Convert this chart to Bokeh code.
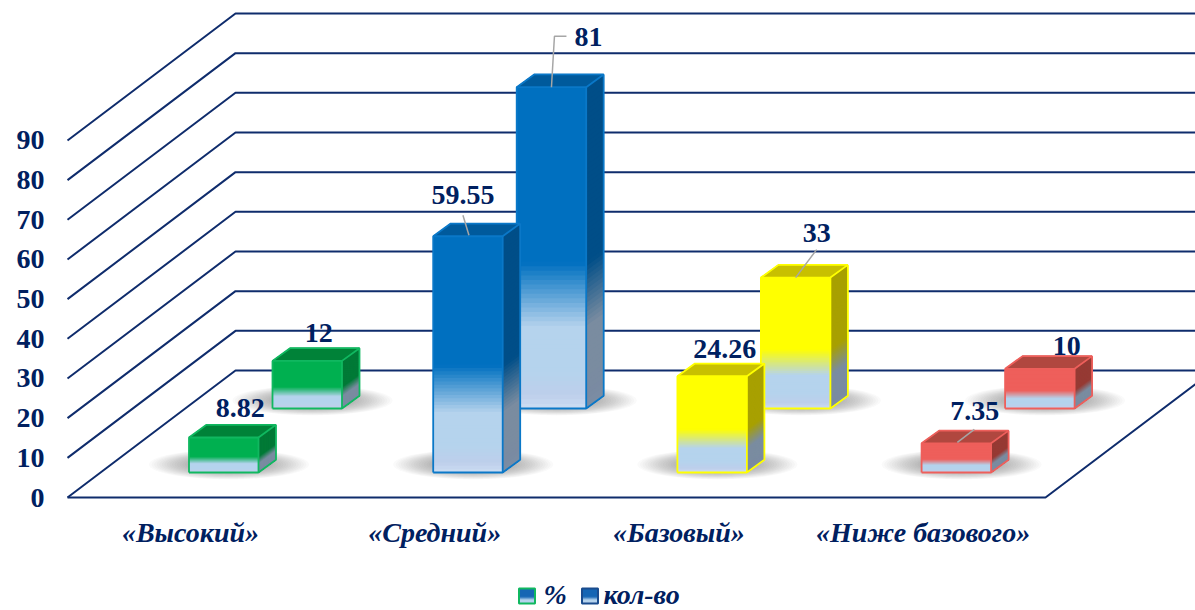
import numpy as np
from bokeh.plotting import figure
from bokeh.layouts import column
from bokeh.models import Range1d, FixedTicker
from bokeh.core.properties import value
from bokeh.embed import file_html
from bokeh.resources import INLINE

# ---- data ----
categories = ["«Высокий»", "«Средний»", "«Базовый»", "«Ниже базового»"]
pct_values = [8.82, 59.55, 24.26, 7.35]
count_values = [12, 81, 33, 10]
y_ticks = [0, 10, 20, 30, 40, 50, 60, 70, 80, 90]
series_names = ["%", "кол-во"]

# ---- colours per category ----
front_col = ["#00B050", "#0070C0", "#FFFF00", "#EE5F5B"]
top_col = ["#008238", "#005A9C", "#C8C000", "#B0473F"]
side_col = ["#007A37", "#004E88", "#A8A000", "#963B35"]
edge_col = ["#10B860", "#0A78C8", "#FFFF00", "#EE5F5B"]
TXT = "#002060"
GRID = "#0F2C6C"
LEAD = "#A6A6A6"
FONT = value("Liberation Serif")

# ---- layout (screen-px scale) ----
PX = 3.967            # px per value unit
W, H1, H2 = 1195, 556, 54
X0_F, X0_B, STEP, BAR_W = 188.5, 272.0, 244.2, 69.5
DX, DY = 17.5, 12.7 / PX
BASE_F, BASE_B = 25.0 / PX, 89.0 / PX
WALL_DX, WALL_DY = 168.0, 127.0 / PX
# label offsets from the centre of the bar's top edge (dx, up), front row then back row
label_off_f = [(16.5, 29.5), (-5, 41), (12.5, 27), (18.5, 32)]
label_off_b = [(11.5, 28), (37, 50), (21, 45), (27, 23)]
lead_f = {1: [(1, 1), (-5, 21)], 3: [(1, 1), (18, 14)]}
lead_b = {1: [(0, 0), (3, 51), (15, 51)], 2: [(0, 0), (21, 28)]}


def mix(a, b, t):
    ca = [int(a[i:i + 2], 16) for i in (1, 3, 5)]
    cb = [int(b[i:i + 2], 16) for i in (1, 3, 5)]
    return "#%02x%02x%02x" % tuple(int(round(x + (y - x) * t)) for x, y in zip(ca, cb))


def ramp(c, t, light=("#B5D3ED", "#BDCEEB", "#CFE0F4")):
    if t < 0.54:
        return c
    if t < 0.74:
        return mix(c, light[0], (t - 0.54) / 0.20)
    if t < 0.88:
        return light[0]
    if t < 0.95:
        return mix(light[0], light[1], (t - 0.88) / 0.07)
    return mix(light[1], light[2], (t - 0.95) / 0.05)


p = figure(width=W, height=H1, x_range=Range1d(63, 1195),
           y_range=Range1d(-3 / PX, 497 / PX),
           min_border_left=63, min_border_right=0, min_border_top=0, min_border_bottom=H1 - 500,
           toolbar_location=None, output_backend="svg", outline_line_color=None,
           background_fill_color="white", border_fill_color="white")
p.grid.visible = False

ax = p.yaxis[0]
ax.ticker = FixedTicker(ticks=y_ticks)
ax.axis_line_color = None
ax.major_tick_line_color = None
ax.minor_tick_line_color = None
ax.major_label_standoff = 13
ax.major_label_text_font = "Liberation Serif"
ax.major_label_text_font_style = "bold"
ax.major_label_text_font_size = "28px"
ax.major_label_text_color = TXT

lab_x = [190 + STEP * i for i in range(len(categories))]
ax = p.xaxis[0]
ax.ticker = FixedTicker(ticks=lab_x)
ax.major_label_overrides = {t: c for t, c in zip(lab_x, categories)}
ax.axis_line_color = None
ax.major_tick_line_color = None
ax.minor_tick_line_color = None
ax.major_label_standoff = 10
ax.major_label_text_font = "Liberation Serif"
ax.major_label_text_font_style = "bold italic"
ax.major_label_text_font_size = "28px"
ax.major_label_text_color = TXT

# walls and floor
xs = [[67, 67 + WALL_DX, 1195] for _ in y_ticks if _ > 0]
ys = [[v, v + WALL_DY, v + WALL_DY] for v in y_ticks if v > 0]
xs.append([67, 67 + WALL_DX, 1195])
ys.append([0, WALL_DY, WALL_DY])
xs.append([67, 1045, 1045 + WALL_DX])
ys.append([0, 0, WALL_DY])
p.multi_line(xs, ys, line_color=GRID, line_width=2)


def shadow(x0, base):
    for k in range(24):
        f = 1 - k * 0.032
        p.ellipse(x=[x0 + 40], y=[base + 8.0 / PX], width=[160 * f], height=[(30 * f) / PX],
                  fill_color="#3a3a3a", fill_alpha=0.022, line_color=None)


def bar(x0, base, val, i):
    top = base + val
    x1 = x0 + BAR_W
    n = 70
    ts = np.linspace(0, 1, n, endpoint=False)
    # top face
    p.patch([x0, x1, x1 + DX, x0 + DX], [top, top, top + DY, top + DY],
            fill_color=top_col[i], line_color=top_col[i], line_width=1)
    # side face: each strip runs down to the foot and is overpainted by the next
    sx, sy, sc = [], [], []
    for t in ts:
        y = top - val * t
        sx.append([x1, x1 + DX, x1 + DX, x1])
        sy.append([y, y + DY, base + DY, base])
        sc.append(ramp(side_col[i], t, ("#7A8CA0", "#7A8AA2", "#7C8EA4")))
    p.patches(sx, sy, fill_color=sc, line_color=None)
    # front face
    p.quad(left=[x0] * n, right=[x1] * n, top=[top - val * t for t in ts], bottom=[base] * n,
           fill_color=[ramp(front_col[i], t) for t in ts], line_color=None)
    # edges
    p.multi_line([[x0, x1, x1, x0, x0], [x1, x1 + DX, x1 + DX, x1], [x0, x0 + DX, x1 + DX]],
                 [[base, base, top, top, base], [base, base + DY, top + DY, top],
                  [top, top + DY, top + DY]],
                 line_color=edge_col[i], line_width=1.8)


for i in range(len(categories)):
    shadow(X0_B + STEP * i, BASE_B)
    shadow(X0_F + STEP * i, BASE_F)
for i in range(len(categories)):
    bar(X0_B + STEP * i, BASE_B, count_values[i], i)
for i in range(len(categories)):
    bar(X0_F + STEP * i, BASE_F, pct_values[i], i)

# leaders and value labels
lx, ly = [], []
tx, ty, tt = [], [], []
for i in range(len(categories)):
    for x0, base, vals, offs, leads in ((X0_F, BASE_F, pct_values, label_off_f, lead_f),
                                        (X0_B, BASE_B, count_values, label_off_b, lead_b)):
        cx = x0 + STEP * i + BAR_W / 2
        top = base + vals[i]
        tx.append(cx + offs[i][0])
        ty.append(top + offs[i][1] / PX)
        tt.append(str(vals[i]))
        if i in leads:
            lx.append([cx + a for a, b in leads[i]])
            ly.append([top + b / PX for a, b in leads[i]])
p.multi_line(lx, ly, line_color=LEAD, line_width=1.5)
p.text(tx, ty, text=tt, text_align="center", text_baseline="middle", text_color=TXT,
       text_font=FONT, text_font_style="bold", text_font_size="28px")

# legend strip: the column aligns its left border with the main figure's
leg = figure(width=W, height=H2, x_range=Range1d(63, 1195), y_range=Range1d(H1 + H2, H1),
             x_axis_location=None, y_axis_location=None,
             min_border=0, min_border_left=63, toolbar_location=None, output_backend="svg",
             outline_line_color=None, background_fill_color="white", border_fill_color="white")
leg.grid.visible = False
icons = [(518.5, "#10B860"), (581.5, "#1A4C8E")]
for (ix, ec) in icons:
    n = 15
    ts = np.linspace(0, 1, n, endpoint=False)
    leg.quad(left=[ix] * n, right=[ix + 16] * n, top=[588 + 15 * t for t in ts], bottom=[603] * n,
             fill_color=[ramp("#1666B4", t * 0.95 + 0.05) for t in ts], line_color=None)
    leg.quad(left=[ix], right=[ix + 16], top=[588], bottom=[603], fill_color=None,
             line_color=ec, line_width=2)
leg.text([543, 603], [594, 594], text=series_names, text_align="left", text_baseline="middle",
         text_color=TXT, text_font=FONT, text_font_style="bold italic", text_font_size="28px")

page = column(p, leg, spacing=0)
open("out.html", "w").write(file_html(page, INLINE))
